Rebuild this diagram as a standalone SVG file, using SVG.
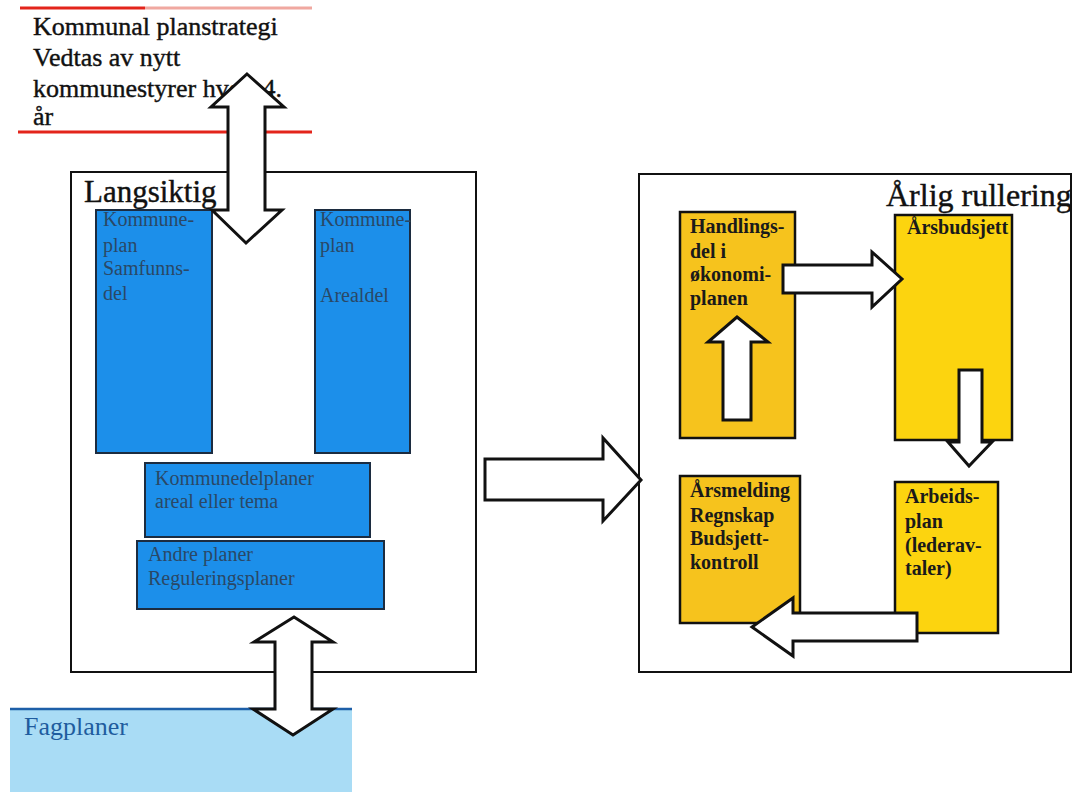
<svg xmlns="http://www.w3.org/2000/svg" width="1073" height="792" viewBox="0 0 1073 792">
<style>
.serif{font-family:"Liberation Serif","Times New Roman",serif;}
.frame{fill:#ffffff;stroke:#111;stroke-width:2;}
.blue{fill:#1c8fea;stroke:#1c2c40;stroke-width:2;}
.btxt{font-family:"Liberation Serif",serif;font-size:20px;fill:#2a4866;}
.yel1{fill:#f6c31d;stroke:#111;stroke-width:2.5;}
.yel2{fill:#fcd40f;stroke:#111;stroke-width:2.5;}
.ytxt{font-family:"Liberation Serif",serif;font-size:20px;font-weight:bold;fill:#1a1a1a;}
.arrow{fill:#ffffff;stroke:#111;stroke-width:3;stroke-linejoin:miter;}
.red{stroke:#e3241b;stroke-width:3;}
</style>
<rect width="1073" height="792" fill="#ffffff"/>

<g id="planstrategi">
<line class="red" x1="20" y1="8" x2="145" y2="8"/>
<line x1="145" y1="8" x2="312" y2="8" stroke="#f0a8a0" stroke-width="3"/>
<line class="red" x1="18" y1="132" x2="312" y2="132"/>
<text class="serif" font-size="26" fill="#111" stroke="#111" stroke-width="0.4"><tspan x="33" y="35">Kommunal planstrategi</tspan><tspan x="33" y="66">Vedtas av nytt</tspan><tspan x="33" y="97">kommunestyrer hvert 4.</tspan><tspan x="33" y="125">år</tspan></text>
</g>

<g id="langsiktig">
<rect class="frame" x="71" y="172" width="405" height="500"/>
<text class="serif" x="84" y="202" font-size="31" fill="#111" stroke="#111" stroke-width="0.4">Langsiktig</text>
</g>

<g id="samfunnsdel">
<rect class="blue" x="96" y="210" width="116" height="243"/>
<text class="btxt"><tspan x="103" y="226">Kommune-</tspan><tspan x="103" y="252">plan</tspan><tspan x="103" y="275">Samfunns-</tspan><tspan x="103" y="300">del</tspan></text>
</g>

<g id="arealdel">
<rect class="blue" x="315" y="210" width="95" height="243"/>
<text class="btxt"><tspan x="320" y="226">Kommune-</tspan><tspan x="320" y="252">plan</tspan><tspan x="320" y="302">Arealdel</tspan></text>
</g>

<g id="kommunedelplaner">
<rect class="blue" x="145" y="463" width="225" height="74"/>
<text class="btxt"><tspan x="155" y="485">Kommunedelplaner</tspan><tspan x="155" y="508">areal  eller tema</tspan></text>
</g>

<g id="andreplaner">
<rect class="blue" x="137" y="541" width="247" height="68"/>
<text class="btxt"><tspan x="148" y="561">Andre planer</tspan><tspan x="148" y="585">Reguleringsplaner</tspan></text>
</g>

<g id="fagplaner">
<rect x="10" y="709" width="342" height="83" fill="#a9dcf5"/>
<line x1="10" y1="709" x2="352" y2="709" stroke="#1d5fa8" stroke-width="2.5"/>
<text class="serif" x="24" y="735" font-size="26" fill="#1f5c9e">Fagplaner</text>
</g>

<g id="arlig">
<rect class="frame" x="639" y="174" width="432" height="498"/>
<text class="serif" x="886" y="206" font-size="32" fill="#111" stroke="#111" stroke-width="0.4">Årlig rullering</text>
</g>

<g id="handlingsdel">
<rect class="yel1" x="680" y="212" width="115" height="226"/>
<text class="ytxt"><tspan x="690" y="233">Handlings-</tspan><tspan x="690" y="258">del i</tspan><tspan x="690" y="281">økonomi-</tspan><tspan x="690" y="305">planen</tspan></text>
</g>

<g id="arsbudsjett">
<rect class="yel2" x="895" y="215" width="117" height="225"/>
<text class="ytxt" font-size="17"><tspan x="907" y="234">Årsbudsjett</tspan></text>
</g>

<g id="arsmelding">
<rect class="yel1" x="680" y="476" width="120" height="147"/>
<text class="ytxt"><tspan x="690" y="497">Årsmelding</tspan><tspan x="690" y="522">Regnskap</tspan><tspan x="690" y="545">Budsjett-</tspan><tspan x="690" y="569">kontroll</tspan></text>
</g>

<g id="arbeidsplan">
<rect class="yel2" x="895" y="482" width="103" height="151"/>
<text class="ytxt"><tspan x="905" y="503">Arbeids-</tspan><tspan x="905" y="528">plan</tspan><tspan x="905" y="552">(lederav-</tspan><tspan x="905" y="575">taler)</tspan></text>
</g>

<g id="connectors">
<polygon class="arrow" points="247,74 284,107 265,107 265,210 282,210 246,243 212,210 228,210 228,107 211,107"/>
<polygon class="arrow" points="294,617 333,642 312,642 312,709 333,709 293,735 253,709 275,709 275,642 254,642"/>
<polygon class="arrow" points="485,459 603,459 603,438 641,480 603,521 603,500 485,500"/>
<polygon class="arrow" points="737,317 768,342 751,342 751,420 723,420 723,342 708,342"/>
<polygon class="arrow" points="783,265 872,265 872,252 902,279 872,307 872,293 783,293"/>
<polygon class="arrow" points="959,370 982,370 982,442 992,442 969,466 948,442 959,442"/>
<polygon class="arrow" points="917,613 917,641 793,641 793,656 752,627 793,598 793,613"/>
</g>
</svg>
